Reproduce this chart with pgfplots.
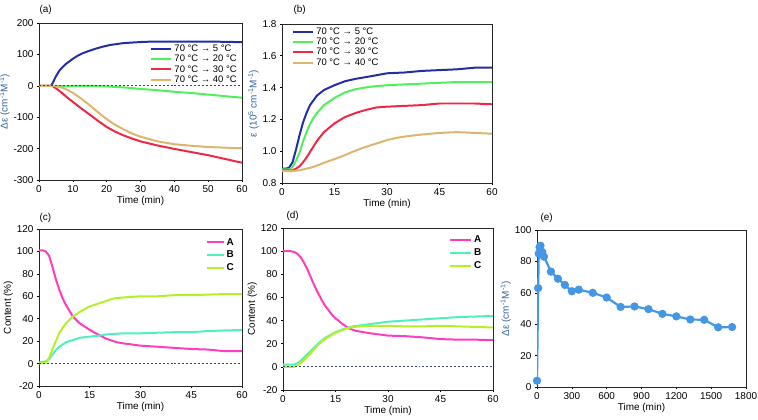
\documentclass[border=0pt]{standalone}
\usepackage{pgfplots}
\pgfplotsset{compat=1.18}
\usepackage{fontspec}
\setmainfont{Liberation Sans}
\definecolor{cblue}{RGB}{35,45,165}
\definecolor{cgreen}{RGB}{80,240,90}
\definecolor{cred}{RGB}{240,40,70}
\definecolor{ctan}{RGB}{222,180,110}
\definecolor{cmag}{RGB}{255,60,190}
\definecolor{caqua}{RGB}{80,240,190}
\definecolor{cyg}{RGB}{180,240,40}
\definecolor{cpt}{RGB}{70,150,230}
\definecolor{clab}{RGB}{50,100,160}
\definecolor{cdot}{RGB}{60,70,120}
\pgfplotsset{
  panel/.style={
    scale only axis,
    axis line style={black!85, line width=0.9pt},
    tick style={black, line width=0.6pt},
    major tick length=2pt,
    tick align=outside,
    xtick pos=left, ytick pos=left,
    /pgf/number format/assume math mode=true,
    /pgf/number format/1000 sep={},
    tick label style={font=\fontsize{10}{11}\selectfont},
    label style={font=\fontsize{10}{11}\selectfont},
    xlabel={Time (min)},
    xlabel style={yshift=3pt},
    ylabel style={yshift=-3pt},
    legend cell align=left,
    legend style={draw=none, fill=none, inner sep=0pt, font=\fontsize{9.5}{10}\selectfont,
      row sep=-1.8pt},
    legend image code/.code={\draw[##1, line width=2pt] (0bp,0bp) -- (20bp,0bp);},
    every axis plot/.append style={line width=2pt},
  },
}
\begin{document}
\begin{tikzpicture}[x=1bp,y=1bp]
\useasboundingbox (0,0) rectangle (758,419);
% (a)
\begin{axis}[panel, at={(39bp,239bp)}, anchor=south west, width=203bp, height=157bp,
  xmin=0, xmax=60, ymin=-300, ymax=200, xtick={0,10,...,60}, ytick={-300,-200,...,200},
  ylabel={\color{clab}Δε (cm\textsuperscript{-1}M\textsuperscript{-1})},
  legend style={at={(rel axis cs:0.985,0.875)}, anchor=north east}]
\addplot[cblue] coordinates {(0,0)(1,0)(2,0)(3,0)(3.5,0)(4,8)(5,30)(6,48)(7,60)(8,70)(9,78)(10,86)(11,93)(12,99)(13,104)(14,108)(15,112)(17,119)(19,125)(21,130)(23,133)(25,136)(28,138)(31,140)(35,141)(40,141)(45,141)(50,141)(55,140)(60,139)};
\addlegendentry{70 °C → 5 °C}
\addplot[cgreen] coordinates {(0,0)(5,0)(8,-2)(10,0)(15,0)(20,-2)(25,-5)(30,-10)(35,-14)(40,-19)(45,-23)(50,-28)(55,-33)(60,-38)};
\addlegendentry{70 °C → 20 °C}
\addplot[cred] coordinates {(0,0)(3,0)(4,-1)(5,-8)(6,-16)(7,-25)(8,-34)(9,-43)(10,-51)(12,-68)(15,-92)(17.5,-112)(20,-131)(22.5,-146)(25,-158)(27.5,-168)(30,-177)(35,-190)(40,-201)(45,-211)(50,-221)(55,-233)(60,-245)};
\addlegendentry{70 °C → 30 °C}
\addplot[ctan] coordinates {(0,0)(4,0)(5,-2)(6.5,-5)(8,-11)(10,-22)(12.5,-41)(15,-62)(17.5,-85)(20,-106)(22.5,-124)(25,-139)(27.5,-152)(30,-162)(35,-177)(40,-186)(45,-191)(50,-195)(55,-197)(60,-199)};
\addlegendentry{70 °C → 40 °C}
\addplot[cdot, dotted, line width=0.8pt, forget plot] coordinates {(0,0)(60,0)};
\end{axis}
\node[anchor=base west, font=\fontsize{10}{11}\selectfont] at (36,406) {(a)};
% (b)
\begin{axis}[panel, at={(282bp,236bp)}, anchor=south west, width=210bp, height=159bp,
  xmin=0, xmax=60, ymin=0.8, ymax=1.8, xtick={0,15,...,60}, ytick={0.8,1.0,...,1.8},
  yticklabel style={/pgf/number format/.cd, fixed, fixed zerofill, precision=1},
  ylabel={\color{clab}ε (10\textsuperscript{5} cm\textsuperscript{-1}M\textsuperscript{-1})},
  legend style={at={(rel axis cs:0.048,0.99)}, anchor=north west}]
\addplot[cblue] coordinates {(0,0.89)(1,0.89)(2,0.895)(3,0.93)(4,1.01)(5,1.1)(6,1.18)(7,1.24)(8,1.29)(9,1.32)(10,1.35)(12,1.385)(15,1.415)(18,1.44)(21,1.455)(25,1.47)(30,1.49)(35,1.495)(40,1.505)(45,1.51)(50,1.515)(55,1.525)(60,1.525)};
\addlegendentry{70 °C → 5 °C}
\addplot[cgreen] coordinates {(0,0.885)(2,0.885)(3,0.9)(4,0.94)(5,0.99)(6,1.06)(7,1.12)(8,1.17)(9,1.21)(10,1.24)(12,1.29)(15,1.335)(18,1.37)(21,1.39)(25,1.405)(30,1.415)(35,1.42)(40,1.425)(45,1.43)(50,1.435)(55,1.435)(60,1.435)};
\addlegendentry{70 °C → 20 °C}
\addplot[cred] coordinates {(0,0.88)(3,0.88)(4,0.89)(5,0.905)(6,0.93)(7,0.96)(8,0.995)(9,1.03)(10,1.065)(12,1.12)(15,1.175)(18,1.215)(21,1.24)(24,1.26)(27,1.275)(30,1.28)(35,1.285)(40,1.29)(45,1.3)(50,1.3)(55,1.3)(60,1.295)};
\addlegendentry{70 °C → 30 °C}
\addplot[ctan] coordinates {(0,0.875)(3,0.875)(5,0.88)(8,0.895)(10,0.91)(13,0.935)(15,0.95)(18,0.975)(20,0.995)(23,1.02)(25,1.035)(28,1.055)(30,1.07)(33,1.085)(36,1.095)(40,1.105)(45,1.115)(50,1.12)(55,1.115)(60,1.11)};
\addlegendentry{70 °C → 40 °C}
\end{axis}
\node[anchor=base west, font=\fontsize{10}{11}\selectfont] at (290,406) {(b)};
% (c)
\begin{axis}[panel, at={(39bp,33bp)}, anchor=south west, width=203bp, height=157bp,
  xmin=0, xmax=60, ymin=-20, ymax=120, xtick={0,15,...,60}, ytick={-20,0,...,120},
  ylabel={Content (\%)},
  legend style={at={(rel axis cs:0.97,0.955)}, anchor=north east, font=\fontsize{10}{11}\selectfont\bfseries, row sep=0.5pt},
  legend image code/.code={\draw[#1, line width=2pt] (0bp,0bp) -- (17bp,0bp);}]
\addplot[cmag] coordinates {(0,101)(1,101)(2,100)(3,96)(4,86)(5,75)(6,66)(7,58)(8,52)(9,47)(10,42)(12,36)(15,30)(18,25)(20,22)(23,19)(25,18)(30,16)(35,15)(40,14)(45,13)(50,12.5)(55,11)(60,11)};
\addlegendentry{A}
\addplot[caqua] coordinates {(0,1)(2,2)(3,4)(4,8)(5,12)(6,15)(7,17)(8,19)(10,21)(12,23)(15,24)(18,25)(20,26)(25,27)(30,27)(35,27.5)(40,28)(45,28)(50,29)(55,29.5)(60,30)};
\addlegendentry{B}
\addplot[cyg] coordinates {(0,0)(2,1)(3,5)(4,13)(5,20)(6,27)(7,32)(8,36)(9,39)(10,42)(12,46)(15,51)(18,54)(20,56)(22,58)(25,59)(30,60)(35,60)(40,61)(45,61)(50,61.5)(55,62)(60,62)};
\addlegendentry{C}
\addplot[cdot, dotted, line width=0.8pt, forget plot] coordinates {(0,0)(60,0)};
\end{axis}
\node[anchor=base west, font=\fontsize{10}{11}\selectfont] at (36,199) {(c)};
% (d)
\begin{axis}[panel, at={(283bp,29bp)}, anchor=south west, width=210bp, height=162bp,
  xmin=0, xmax=60, ymin=-20, ymax=120, xtick={0,15,...,60}, ytick={-20,0,...,120},
  ylabel={Content (\%)},
  legend style={at={(rel axis cs:0.955,0.965)}, anchor=north east, font=\fontsize{10}{11}\selectfont\bfseries, row sep=0.5pt},
  legend image code/.code={\draw[#1, line width=2pt] (0bp,0bp) -- (21bp,0bp);}]
\addplot[cmag] coordinates {(0,100)(2,100)(3,99.5)(4,98)(5,95)(6,90)(7,84)(8,77)(9,70)(10,64)(11,58)(12,53)(13,49)(14,45)(15,42)(17,37)(19,33)(21,31)(25,29)(30,27)(35,26.5)(40,25.5)(45,24)(50,23.5)(55,23.5)(60,23)};
\addlegendentry{A}
\addplot[caqua] coordinates {(0,2)(3,2)(4,3)(5,5)(6,8)(7,11)(8,14)(9,17)(10,20)(12,25)(15,30)(18,33.5)(20,35)(25,37)(30,39)(35,40)(40,41)(45,42)(50,43)(55,43.5)(60,44)};
\addlegendentry{B}
\addplot[cyg] coordinates {(0,0)(3,0)(4,1)(5,3)(6,6)(7,9)(8,12)(9,15.5)(10,19)(12,24)(15,29.5)(18,33)(20,34.5)(25,35.5)(30,35.5)(35,35)(40,35)(45,35.5)(50,35)(55,34.5)(60,34)};
\addlegendentry{C}
\addplot[cdot, dotted, line width=0.8pt, forget plot] coordinates {(0,0)(60,0)};
\end{axis}
\node[anchor=base west, font=\fontsize{10}{11}\selectfont] at (283,201) {(d)};
% (e)
\begin{axis}[panel, at={(537bp,32bp)}, anchor=south west, width=209bp, height=157bp,
  xmin=0, xmax=1800, ymin=0, ymax=100, xtick={0,300,...,1800}, ytick={0,20,...,100},
  ylabel={\color{clab}Δε (cm\textsuperscript{-1}M\textsuperscript{-1})}]
\addplot[cpt, line width=2.2pt, mark=*, mark size=3pt] coordinates {(0,4)(10,63)(15,85)(22,89)(30,90)(45,86)(60,83)(120,73.5)(180,69)(240,65)(300,61)(360,62)(480,60)(600,57)(720,51)(840,51.3)(960,49.6)(1080,46.6)(1200,45)(1320,43)(1440,42.8)(1560,38)(1680,38.2)};
\end{axis}
\node[anchor=base west, font=\fontsize{10}{11}\selectfont] at (537,199) {(e)};
\end{tikzpicture}
\end{document}
